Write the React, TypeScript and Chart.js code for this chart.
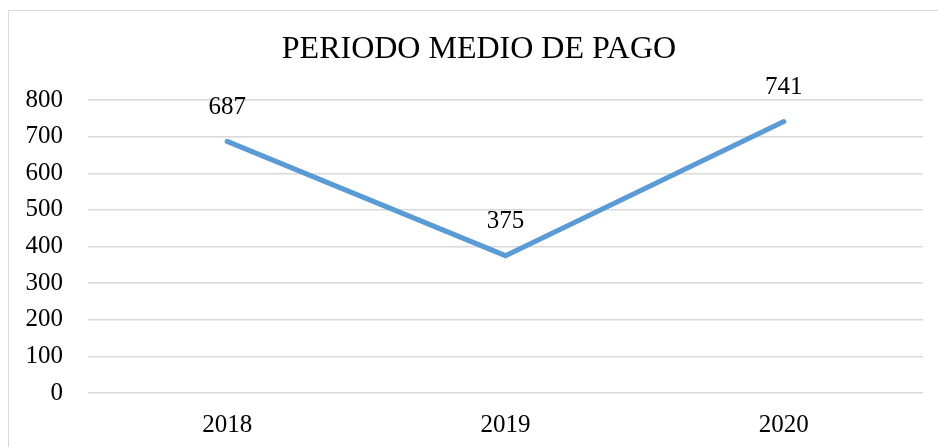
import React, { useEffect, useRef } from "react";
import { Chart, registerables } from "chart.js";

Chart.register(...registerables);

const categories = ["2018", "2019", "2020"];
const values = [687, 375, 741];
const yTicks = [0, 100, 200, 300, 400, 500, 600, 700, 800];
const titleText = "PERIODO MEDIO DE PAGO";

const FONT = "'Liberation Serif', 'Times New Roman', serif";

const dataLabelPlugin = {
  id: "dataLabels",
  afterDatasetsDraw(chart: any) {
    const ctx = chart.ctx;
    const meta = chart.getDatasetMeta(0);
    ctx.save();
    ctx.font = `25px ${FONT}`;
    ctx.fillStyle = "#000";
    ctx.textAlign = "center";
    ctx.textBaseline = "middle";
    meta.data.forEach((pt: any, i: number) => {
      ctx.fillText(String(values[i]), pt.x, pt.y - 34);
    });
    ctx.restore();
  },
};

const titlePlugin = {
  id: "customTitle",
  afterDraw(chart: any) {
    const ctx = chart.ctx;
    ctx.save();
    ctx.font = `32px ${FONT}`;
    ctx.fillStyle = "#000";
    ctx.textAlign = "center";
    ctx.textBaseline = "middle";
    ctx.fillText(titleText, 470, 39);
    ctx.restore();
  },
};

export default function App() {
  const ref = useRef<HTMLCanvasElement | null>(null);
  useEffect(() => {
    if (!ref.current) return;
    const chart = new Chart(ref.current, {
      type: "line",
      data: {
        labels: categories,
        datasets: [
          {
            data: values,
            borderColor: "#5B9BD5",
            borderWidth: 5,
            borderCapStyle: "round",
            borderJoinStyle: "miter",
            pointRadius: 0,
            tension: 0,
          },
        ],
      },
      options: {
        responsive: false,
        animation: false,
        layout: { padding: { top: 89, left: 0, right: 15, bottom: 0 } },
        plugins: {
          legend: { display: false },
          tooltip: { enabled: false },
          title: { display: false },
        },
        scales: {
          x: {
            offset: true,
            grid: { display: false, drawTicks: false },
            border: { display: false },
            ticks: {
              color: "#000",
              font: { family: FONT, size: 25 },
              padding: 17,
            },
            afterFit: (s: any) => {
              s.height = 54;
            },
          },
          y: {
            min: 0,
            max: 800,
            afterBuildTicks: (s: any) => {
              s.ticks = yTicks.map((v) => ({ value: v }));
            },
            grid: { color: "#d9d9d9", lineWidth: 1.5, drawTicks: false },
            border: { display: false },
            ticks: {
              color: "#000",
              font: { family: FONT, size: 25 },
              padding: 25,
            },
            afterFit: (s: any) => {
              s.width = 79;
            },
          },
        },
      },
      plugins: [dataLabelPlugin, titlePlugin],
    });
    return () => chart.destroy();
  }, []);

  return (
    <div
      style={{
        position: "absolute",
        left: 8,
        top: 10,
        width: 930,
        height: 437,
        borderLeft: "1px solid #d9d9d9",
        borderTop: "1px solid #d9d9d9",
        boxSizing: "border-box",
        overflow: "hidden",
        background: "#fff",
      }}
    >
      <canvas ref={ref} width={929} height={436} style={{ display: "block" }} />
    </div>
  );
}
